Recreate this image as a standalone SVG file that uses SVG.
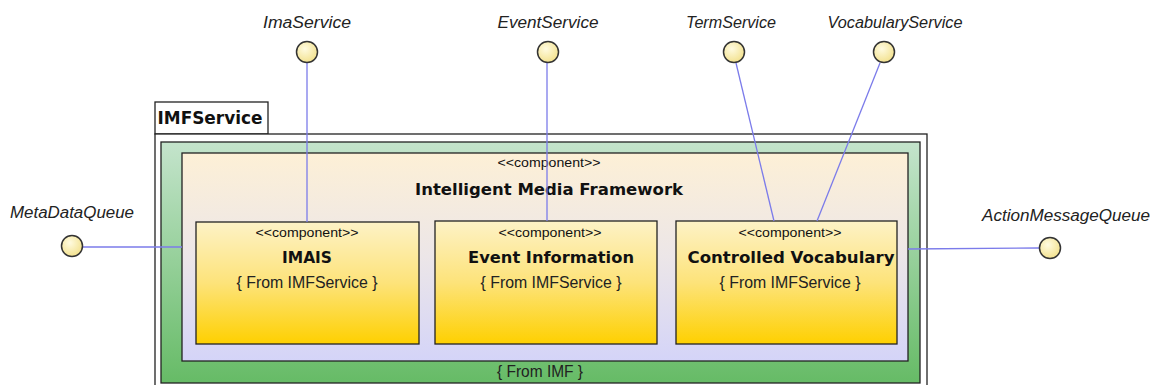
<svg xmlns="http://www.w3.org/2000/svg" width="1153" height="385" viewBox="0 0 1153 385">
<defs>
<linearGradient id="gGreen" x1="0" y1="0" x2="0" y2="1"><stop offset="0" stop-color="#c4e4cc"/><stop offset="1" stop-color="#66bb66"/></linearGradient>
<linearGradient id="gFrame" x1="0" y1="0" x2="0" y2="1"><stop offset="0" stop-color="#fdf0d6"/><stop offset="0.5" stop-color="#ece6e8"/><stop offset="1" stop-color="#d4d4f8"/></linearGradient>
<linearGradient id="gComp" x1="0" y1="0" x2="0" y2="1"><stop offset="0" stop-color="#fdf2c6"/><stop offset="0.5" stop-color="#fde37a"/><stop offset="1" stop-color="#fed000"/></linearGradient>
<radialGradient id="gIf" cx="0.4" cy="0.35" r="0.7"><stop offset="0" stop-color="#fffbe0"/><stop offset="1" stop-color="#f2e08a"/></radialGradient>
<style>
.lbl{font-family:"Liberation Sans",Arial,sans-serif;font-style:italic;font-size:16px;fill:#222;text-anchor:middle}
.st{font-family:"Liberation Sans",Arial,sans-serif;font-size:13.5px;fill:#111;text-anchor:middle}
.nm{font-family:"DejaVu Sans",Verdana,sans-serif;font-weight:bold;font-size:16.5px;fill:#111;text-anchor:middle}
.fr{font-family:"Liberation Sans",Arial,sans-serif;font-size:16px;fill:#222;text-anchor:middle}
.box{stroke:#222;stroke-width:1.3}
.iface{fill:url(#gIf);stroke:#333;stroke-width:1.5}
.conn{stroke:#7b7bea;stroke-width:1.3;fill:none}
</style>
</defs>

<g id="IMFService">
<rect x="155" y="102" width="113" height="32" fill="#fff" stroke="#222" stroke-width="1.3"/>
<text x="210" y="124" font-family="DejaVu Sans,Verdana,sans-serif" font-weight="bold" font-size="17" fill="#111" text-anchor="middle" textLength="105" lengthAdjust="spacingAndGlyphs">IMFService</text>
<rect x="155" y="134" width="772" height="260" fill="#fff" stroke="#222" stroke-width="1.3"/>
<rect x="161" y="142" width="759" height="241" fill="url(#gGreen)" class="box"/>
<text x="540" y="377" class="fr" font-size="14" textLength="86" lengthAdjust="spacingAndGlyphs">{ From IMF }</text>
</g>

<g id="IntelligentMediaFramework">
<rect x="182" y="153" width="726" height="208" fill="url(#gFrame)" class="box"/>
<text x="549" y="167" class="st" textLength="103" lengthAdjust="spacingAndGlyphs">&lt;&lt;component&gt;&gt;</text>
<text x="549" y="195" class="nm" font-size="17.5" textLength="268" lengthAdjust="spacingAndGlyphs">Intelligent Media Framework</text>
</g>

<g id="IMAIS">
<rect x="196" y="222" width="223" height="122" fill="url(#gComp)" class="box"/>
<text x="307" y="237" class="st" textLength="103" lengthAdjust="spacingAndGlyphs">&lt;&lt;component&gt;&gt;</text>
<text x="307" y="263" class="nm" textLength="50" lengthAdjust="spacingAndGlyphs">IMAIS</text>
<text x="307" y="288" class="fr" textLength="141" lengthAdjust="spacingAndGlyphs">{ From IMFService }</text>
</g>

<g id="EventInformation">
<rect x="435" y="221" width="222" height="123" fill="url(#gComp)" class="box"/>
<text x="550" y="237" class="st" textLength="103" lengthAdjust="spacingAndGlyphs">&lt;&lt;component&gt;&gt;</text>
<text x="551" y="263" class="nm" textLength="166" lengthAdjust="spacingAndGlyphs">Event Information</text>
<text x="551" y="288" class="fr" textLength="141" lengthAdjust="spacingAndGlyphs">{ From IMFService }</text>
</g>

<g id="ControlledVocabulary">
<rect x="676" y="221" width="221" height="123" fill="url(#gComp)" class="box"/>
<text x="790" y="237" class="st" textLength="103" lengthAdjust="spacingAndGlyphs">&lt;&lt;component&gt;&gt;</text>
<text x="791" y="263" class="nm" textLength="207" lengthAdjust="spacingAndGlyphs">Controlled Vocabulary</text>
<text x="790" y="288" class="fr" textLength="141" lengthAdjust="spacingAndGlyphs">{ From IMFService }</text>
</g>

<g id="connectors">
<line class="conn" x1="307" y1="63" x2="307" y2="222"/>
<line class="conn" x1="547" y1="63" x2="547" y2="221"/>
<line class="conn" x1="736" y1="63" x2="774" y2="221"/>
<line class="conn" x1="880" y1="63" x2="817" y2="221"/>
<line class="conn" x1="83" y1="247" x2="182" y2="247"/>
<line class="conn" x1="908" y1="249" x2="1039" y2="248"/>
</g>

<g id="ImaService">
<circle class="iface" cx="307" cy="52" r="10.5"/>
<text x="307" y="28" class="lbl" textLength="88" lengthAdjust="spacingAndGlyphs">ImaService</text>
</g>
<g id="EventService">
<circle class="iface" cx="548" cy="52" r="10.5"/>
<text x="548" y="28" class="lbl" textLength="101" lengthAdjust="spacingAndGlyphs">EventService</text>
</g>
<g id="TermService">
<circle class="iface" cx="734" cy="52" r="10.5"/>
<text x="731" y="28" class="lbl" textLength="90" lengthAdjust="spacingAndGlyphs">TermService</text>
</g>
<g id="VocabularyService">
<circle class="iface" cx="884" cy="52" r="10.5"/>
<text x="895" y="28" class="lbl" textLength="135" lengthAdjust="spacingAndGlyphs">VocabularyService</text>
</g>
<g id="MetaDataQueue">
<circle class="iface" cx="72" cy="246" r="10.5"/>
<text x="72" y="218" class="lbl" textLength="124" lengthAdjust="spacingAndGlyphs">MetaDataQueue</text>
</g>
<g id="ActionMessageQueue">
<circle class="iface" cx="1050" cy="248" r="10.5"/>
<text x="1066" y="221" class="lbl" textLength="168" lengthAdjust="spacingAndGlyphs">ActionMessageQueue</text>
</g>
</svg>
